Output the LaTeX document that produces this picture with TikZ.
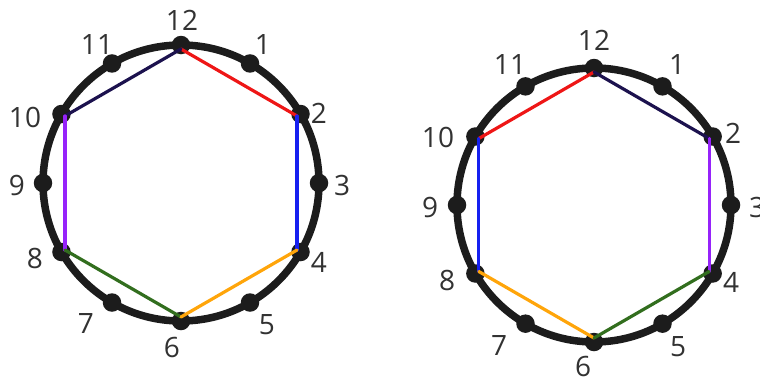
\documentclass[tikz,border=0pt]{standalone}
\usepackage{fontspec}
\setmainfont{Open Sans}
\definecolor{cred}{RGB}{238,22,22}
\definecolor{cnavy}{RGB}{28,18,78}
\definecolor{cblue}{RGB}{22,32,240}
\definecolor{cpurple}{RGB}{150,35,250}
\definecolor{cgreen}{RGB}{50,110,30}
\definecolor{corange}{RGB}{255,165,10}
\definecolor{cring}{RGB}{28,28,28}
\definecolor{ctext}{RGB}{50,50,50}
\begin{document}
\begin{tikzpicture}[x=1pt,y=-1pt,
  ring/.style={line width=7.5pt, draw=cring},
  dot/.style={circle, fill=cring, inner sep=0pt, minimum size=18.5pt},
  num/.style={font=\fontsize{28}{28}\selectfont, text=ctext, inner sep=0pt},
  edge/.style={line width=3.2pt, line cap=round}]
\useasboundingbox (0,0) rectangle (760,381);
% left clock
\draw[ring] (181,183) circle[radius=138pt];
\foreach \k in {1,...,12} {
  \node[dot] (L\k) at ({181+138*sin(30*\k)},{183-138*cos(30*\k)}) {};
  \coordinate (LV\k) at ({181+134*sin(30*\k)},{183-134*cos(30*\k)});
}
\draw[edge,cred] (LV12) -- (LV2);
\draw[edge,cnavy] (LV12) -- (LV10);
\draw[edge,cblue] (LV2) -- (LV4);
\draw[edge,cpurple] (LV10) -- (LV8);
\draw[edge,cgreen] (LV8) -- (LV6);
\draw[edge,corange] (LV6) -- (LV4);
\node[num] (Lt12) at (182,20) {12};
\node[num] (Lt1) at (263,45) {1};
\node[num] (Lt2) at (319,113) {2};
\node[num] (Lt3) at (342,185) {3};
\node[num] (Lt4) at (319,262) {4};
\node[num] (Lt5) at (267,325) {5};
\node[num] (Lt6) at (172,347) {6};
\node[num] (Lt7) at (86,323) {7};
\node[num] (Lt8) at (35,258) {8};
\node[num] (Lt9) at (17,185) {9};
\node[num] (Lt10) at (25,117) {10};
\node[num] (Lt11) at (97,45) {11};
% right clock
\draw[ring] (594,205) circle[radius=137pt];
\foreach \k in {1,...,12} {
  \node[dot] (R\k) at ({594+137*sin(30*\k)},{205-137*cos(30*\k)}) {};
  \coordinate (RV\k) at ({594+133*sin(30*\k)},{205-133*cos(30*\k)});
}
\draw[edge,cred] (RV12) -- (RV10);
\draw[edge,cnavy] (RV12) -- (RV2);
\draw[edge,cpurple] (RV2) -- (RV4);
\draw[edge,cblue] (RV10) -- (RV8);
\draw[edge,corange] (RV8) -- (RV6);
\draw[edge,cgreen] (RV6) -- (RV4);
\node[num] (Rt12) at (594,40) {12};
\node[num] (Rt1) at (677,65) {1};
\node[num] (Rt2) at (733,133) {2};
\node[num] (Rt3) at (757,207) {3};
\node[num] (Rt4) at (731,282) {4};
\node[num] (Rt5) at (678,347) {5};
\node[num] (Rt6) at (583,366) {6};
\node[num] (Rt7) at (499,345) {7};
\node[num] (Rt8) at (447,280) {8};
\node[num] (Rt9) at (430,207) {9};
\node[num] (Rt10) at (438,137) {10};
\node[num] (Rt11) at (510,65) {11};
\end{tikzpicture}
\end{document}
